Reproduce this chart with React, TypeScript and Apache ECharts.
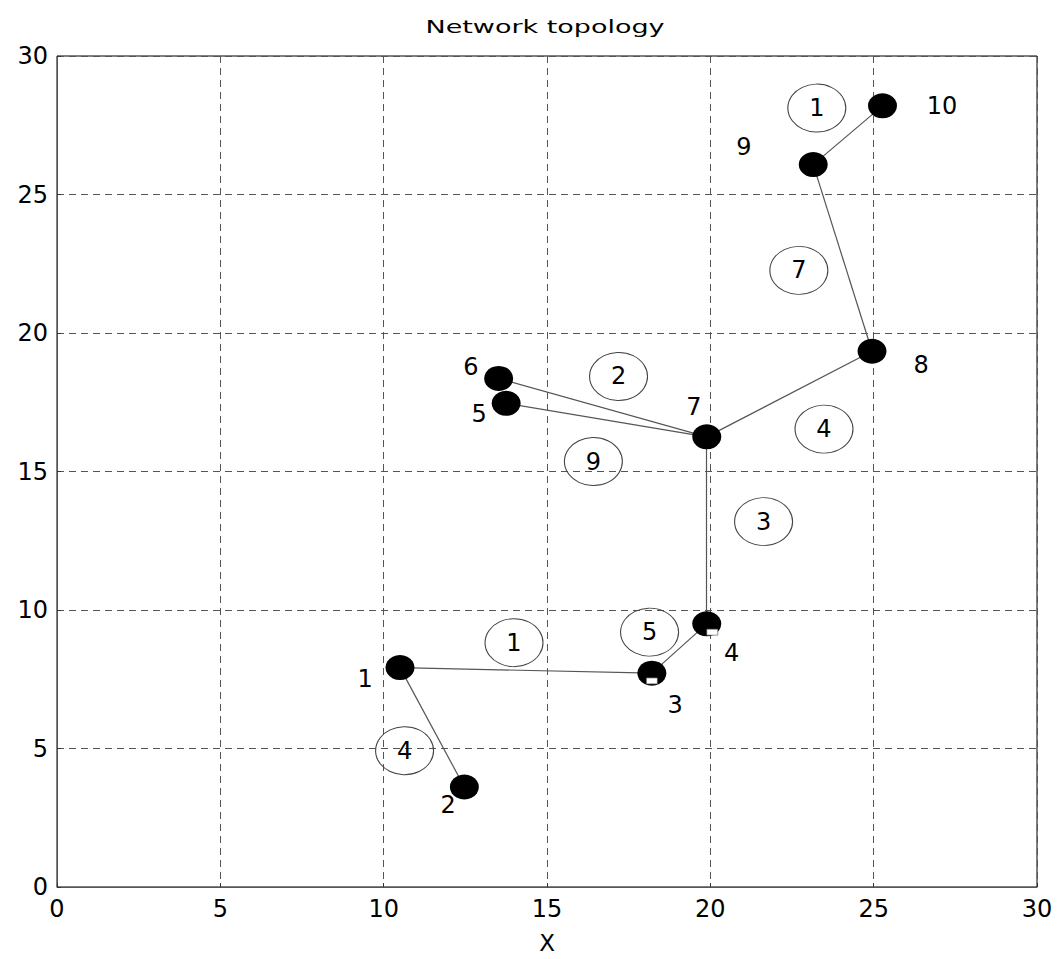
import React, { useEffect, useRef } from "react";
import * as echarts from "echarts";

// Nodes (id 1..10)
const nodeIds = ["1", "2", "3", "4", "5", "6", "7", "8", "9", "10"];
const nodeX = [10.5, 12.47, 18.21, 19.89, 13.75, 13.52, 19.89, 24.95, 23.15, 25.27];
const nodeY = [7.92, 3.61, 7.72, 9.5, 17.46, 18.36, 16.25, 19.34, 26.08, 28.2];

// Node label positions
const nodeLabelX = [9.43, 11.97, 18.92, 20.65, 12.92, 12.67, 19.5, 26.45, 21.03, 27.09];
const nodeLabelY = [7.5, 2.95, 6.58, 8.44, 17.07, 18.79, 17.32, 18.83, 26.73, 28.21];

// Edges (from, to) and their weights
const edgeFrom = [1, 1, 3, 4, 7, 7, 7, 8, 9];
const edgeTo = [2, 3, 4, 7, 5, 6, 8, 9, 10];
const edgeWeights = ["4", "1", "5", "3", "9", "2", "4", "7", "1"];
const edgeLabelX = [10.64, 13.99, 18.14, 21.63, 16.42, 17.19, 23.48, 22.71, 23.26];
const edgeLabelY = [4.92, 8.82, 9.2, 13.19, 15.36, 18.43, 16.53, 22.26, 28.12];

// small white markers visible on nodes 3 and 4
const markX = [18.21, 20.06];
const markY = [7.44, 9.2];

const axisTicks = [0, 5, 10, 15, 20, 25, 30];

const FONT = "DejaVu Sans";

export default function App() {
  const ref = useRef<HTMLDivElement>(null);
  useEffect(() => {
    if (!ref.current) return;
    const chart = echarts.init(ref.current, undefined, { renderer: "svg" });
    const axisCommon = {
      type: "value",
      min: axisTicks[0],
      max: axisTicks[axisTicks.length - 1],
      interval: axisTicks[1] - axisTicks[0],
      axisLine: { show: true, lineStyle: { color: "#555", width: 1 } },
      axisTick: { show: true, inside: true, length: 4, lineStyle: { color: "#333" } },
      axisLabel: { color: "#000", fontSize: 24, fontFamily: FONT },
      splitLine: { show: true, lineStyle: { color: "#555", width: 1, type: [7, 5] } },
    };
    const labelStyle = {
      show: true,
      position: "inside",
      color: "#000",
      fontSize: 24,
      fontFamily: FONT,
      textBorderWidth: 0,
      textBorderColor: "transparent",
      formatter: (p: any) => p.value[2],
    };
    chart.setOption({
      animation: false,
      backgroundColor: "#fff",
      graphic: [
        {
          type: "text",
          x: 545,
          y: 27,
          scaleX: 1.5,
          style: {
            text: "Network topology",
            font: `18px "${FONT}"`,
            fill: "#000",
            align: "center",
            verticalAlign: "middle",
          },
        },
      ],
      grid: {
        left: 57,
        right: 22,
        top: 56,
        bottom: 68,
        show: true,
        borderColor: "#000",
        borderWidth: 1,
        backgroundColor: "transparent",
      },
      xAxis: {
        ...axisCommon,
        name: "X",
        nameLocation: "middle",
        nameGap: 44,
        nameTextStyle: { color: "#000", fontSize: 23, fontFamily: FONT },
        axisLabel: { ...axisCommon.axisLabel, margin: 10 },
      },
      yAxis: {
        ...axisCommon,
        axisLabel: { ...axisCommon.axisLabel, margin: 9 },
      },
      series: [
        {
          type: "lines",
          coordinateSystem: "cartesian2d",
          z: 2,
          silent: true,
          lineStyle: { color: "#555", width: 1.2, opacity: 1 },
          data: edgeFrom.map((a, i) => ({
            coords: [
              [nodeX[a - 1], nodeY[a - 1]],
              [nodeX[edgeTo[i] - 1], nodeY[edgeTo[i] - 1]],
            ],
          })),
        },
        {
          type: "scatter",
          z: 3,
          symbol: "circle",
          symbolSize: [29, 25],
          itemStyle: { color: "#000", opacity: 1 },
          data: nodeX.map((x, i) => [x, nodeY[i]]),
        },
        {
          type: "scatter",
          z: 4,
          symbol: "rect",
          symbolSize: [11, 6],
          itemStyle: { color: "#fff", borderColor: "#555", borderWidth: 0.6, opacity: 1 },
          data: markX.map((x, i) => [x, markY[i]]),
        },
        {
          type: "scatter",
          z: 3,
          symbol: "circle",
          symbolSize: [58, 48],
          itemStyle: {
            color: "rgba(255,255,255,0)",
            borderColor: "#444",
            borderWidth: 1,
            opacity: 1,
          },
          label: labelStyle,
          data: edgeLabelX.map((x, i) => [x, edgeLabelY[i], edgeWeights[i]]),
        },
        {
          type: "scatter",
          z: 5,
          symbolSize: 1,
          itemStyle: { color: "rgba(255,255,255,0)", opacity: 1 },
          label: labelStyle,
          data: nodeLabelX.map((x, i) => [x, nodeLabelY[i], nodeIds[i]]),
        },
      ],
    });
    return () => chart.dispose();
  }, []);
  return (
    <div
      ref={ref}
      style={{ position: "fixed", left: 0, top: 0, width: 1059, height: 959 }}
    />
  );
}
